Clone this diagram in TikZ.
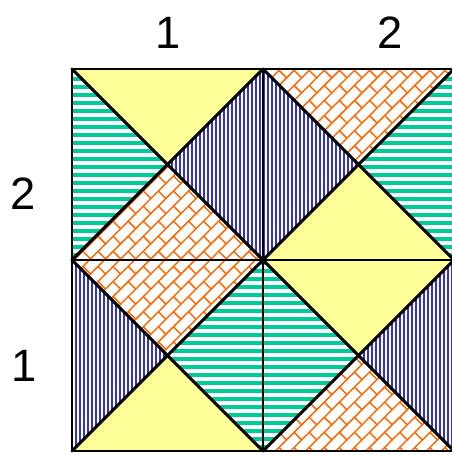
\documentclass[tikz,border=0pt]{standalone}
\usepackage{fontspec}
\setmainfont{Liberation Sans}
\usepackage{xcolor}
\usetikzlibrary{patterns,patterns.meta}

\definecolor{tileyellow}{RGB}{255,255,153}
\definecolor{tilegreen}{RGB}{0,204,153}
\definecolor{tileblue}{RGB}{51,51,204}
\definecolor{tileorange}{RGB}{255,102,0}

% slanted bricks for the orange triangles
\tikzdeclarepattern{
  name=slantbricks,
  type=uncolored,
  bottom left={(-0.7pt,-0.7pt)},
  top right={(16.7pt,16.7pt)},
  tile size={(16pt,16pt)},
  tile transformation={rotate=45},
  code={
    \draw[line width=1.1pt] (0,0) -- (16pt,0) (0,8pt) -- (16pt,8pt)
      (0,0) -- (0,8pt) (8pt,8pt) -- (8pt,16pt);
  }
}

\begin{document}
\begin{tikzpicture}[x=0.75pt,y=-0.75pt,
    solidtri/.style={fill=tileyellow},
    hlinetri/.style={pattern={Lines[angle=0,distance=6pt,line width=3pt]},pattern color=tilegreen},
    vlinetri/.style={pattern={Lines[angle=90,distance=3pt,line width=1.5pt]},pattern color=tileblue},
    bricktri/.style={pattern=slantbricks,pattern color=tileorange},
    edge/.style={draw=black,line width=2.2pt,line cap=round,line join=round},
    label/.style={font=\fontsize{34}{40}\selectfont,inner sep=0pt}]
        \useasboundingbox (0,0) rectangle (452,455);
        \clip (0,0) rectangle (452,455);

        % Corners of the grid
        \coordinate (a00) at (72,69);   \coordinate (a10) at (263,69);  \coordinate (a20) at (454,69);
        \coordinate (a01) at (72,260);  \coordinate (a11) at (263,260); \coordinate (a21) at (454,260);
        \coordinate (a02) at (72,451);  \coordinate (a12) at (263,451); \coordinate (a22) at (454,451);
        % Centres of the squares
        \coordinate (m11) at (167.5,164.5); \coordinate (m21) at (358.5,164.5);
        \coordinate (m12) at (167.5,355.5); \coordinate (m22) at (358.5,355.5);

        % Top left square
        \fill[solidtri] (a00) -- (a10) -- (m11) -- cycle;
        \fill[hlinetri] (a00) -- (a01) -- (m11) -- cycle;
        \fill[vlinetri] (a10) -- (a11) -- (m11) -- cycle;
        \fill[bricktri] (a01) -- (a11) -- (m11) -- cycle;

        % Top right square
        \fill[bricktri] (a10) -- (a20) -- (m21) -- cycle;
        \fill[vlinetri] (a10) -- (a11) -- (m21) -- cycle;
        \fill[hlinetri] (a20) -- (a21) -- (m21) -- cycle;
        \fill[solidtri] (a11) -- (a21) -- (m21) -- cycle;

        % Bottom left square
        \fill[bricktri] (a01) -- (a11) -- (m12) -- cycle;
        \fill[vlinetri] (a01) -- (a02) -- (m12) -- cycle;
        \fill[hlinetri] (a11) -- (a12) -- (m12) -- cycle;
        \fill[solidtri] (a02) -- (a12) -- (m12) -- cycle;

        % Bottom right square
        \fill[solidtri] (a11) -- (a21) -- (m22) -- cycle;
        \fill[hlinetri] (a11) -- (a12) -- (m22) -- cycle;
        \fill[vlinetri] (a21) -- (a22) -- (m22) -- cycle;
        \fill[bricktri] (a12) -- (a22) -- (m22) -- cycle;

        % Grid lines and diagonals
        \draw[edge] (a00) rectangle (a22);
        \draw[edge] (a10) -- (a12) (a01) -- (a21);
        \draw[edge] (a00) -- (a11) -- (a22);
        \draw[edge] (a20) -- (a11) -- (a02);
        \draw[edge] (a10) -- (a01) (a10) -- (a21);
        \draw[edge] (a01) -- (a12) (a21) -- (a12);

        % Column and row labels
        \node[label] (col1) at (168,33) {1};
        \node[label] (col2) at (390,33) {2};
        \node[label] (row2) at (23,194) {2};
        \node[label] (row1) at (24,366) {1};
\end{tikzpicture}
\end{document}
